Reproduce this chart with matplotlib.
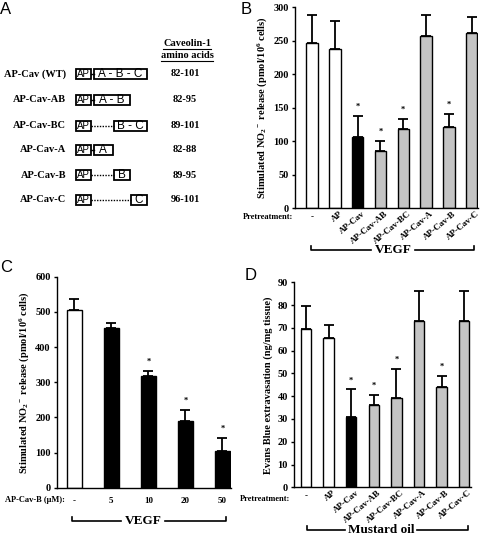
import numpy as np
import matplotlib
matplotlib.use('Agg')
import matplotlib.pyplot as plt
import matplotlib.patches as mpatches
from matplotlib.transforms import ScaledTranslation

##===================================================================
# Data
##===================================================================
# panel A: constructs
construct_names = ['AP-Cav (WT)', 'AP-Cav-AB', 'AP-Cav-BC', 'AP-Cav-A', 'AP-Cav-B', 'AP-Cav-C']
construct_domains = ['ABC', 'AB', 'BC', 'A', 'B', 'C']
construct_aa = ['82-101', '82-95', '89-101', '82-88', '89-95', '96-101']

# panel B: VEGF stimulated NO2- release
b_labels = ['-', 'AP', 'AP-Cav', 'AP-Cav-AB', 'AP-Cav-BC', 'AP-Cav-A', 'AP-Cav-B', 'AP-Cav-C']
b_means = [247, 238, 106, 86, 118, 257, 121, 261]
b_err = [41, 42, 32, 15, 15, 31, 20, 25]
b_sig = [False, False, True, True, True, False, True, False]

# panel C: dose response to AP-Cav-B
c_labels = ['-', '5', '10', '20', '50']
c_means = [505, 454, 318, 190, 105]
c_err = [31, 15, 14, 31, 37]
c_sig = [False, False, True, True, True]

# panel D: Evans blue extravasation
d_labels = b_labels
d_means = [69.7, 65.7, 31.0, 36.0, 39.4, 72.9, 43.9, 72.9]
d_err = [9.8, 5.5, 12.0, 4.4, 12.4, 13.3, 5.0, 13.3]
d_sig = b_sig

##===================================================================
plt.rcParams.update({'font.family': 'Liberation Serif',
                     'font.weight': 'bold',
                     'axes.labelweight': 'bold',
                     'mathtext.fontset': 'custom',
                     'mathtext.rm': 'Liberation Serif:bold',
                     'mathtext.it': 'Liberation Serif:italic:bold',
                     'mathtext.bf': 'Liberation Serif:bold',
                     'axes.linewidth': 1.0,
                     'xtick.labelsize': 7,
                     'ytick.labelsize': 7.5})

W, H = 480, 537
fig = plt.figure(figsize=(W / 100, H / 100), dpi=100)

def px_axes(left, top, right, bottom):
    return fig.add_axes([left / W, 1 - bottom / H, (right - left) / W, (bottom - top) / H])

# overlay in pixel coords for labels / brackets / panel A
ov = fig.add_axes([0, 0, 1, 1])
ov.set_xlim(0, W)
ov.set_ylim(H, 0)
ov.axis('off')

WHITE, BLACK, GRAY = 'white', 'black', '#c4c4c4'
b_cols = [WHITE, WHITE, BLACK, GRAY, GRAY, GRAY, GRAY, GRAY]
c_cols = [WHITE, BLACK, BLACK, BLACK, BLACK]


def bar_panel(ax, means, err, cols, sig, width, ylim, step, ylabel):
    x = np.arange(len(means))
    ax.bar(x, means, width=width, color=cols, edgecolor='black', linewidth=1.0, zorder=2)
    ax.errorbar(x, means, yerr=[np.zeros(len(err)), err], fmt='none', ecolor='black',
                elinewidth=1.3, capsize=3.5, capthick=1.3, zorder=1)
    for xi, m, e, s in zip(x, means, err, sig):
        if s:
            ax.annotate('*', (xi, m + e), xytext=(0, 6.5), textcoords='offset points',
                        ha='center', va='center', fontsize=6)
    ax.set_ylim(*ylim)
    ax.set_yticks(np.arange(ylim[0], ylim[1] + 0.1, step))
    ax.spines['top'].set_visible(False)
    ax.spines['right'].set_visible(False)
    ax.tick_params(axis='y', length=2.5, width=1.0, pad=2)
    ax.tick_params(axis='x', length=0)
    ax.set_ylabel(ylabel, fontsize=7.5, labelpad=3)
    return x


def rotated_labels(ax, x, labels):
    ax.set_xticks(x)
    ax.set_xticklabels(labels, rotation=40, ha='right', rotation_mode='anchor', fontsize=6.5)
    ax.tick_params(axis='x', pad=1)
    shift = ScaledTranslation(4 / 100, 0, fig.dpi_scale_trans)
    for i, lab in enumerate(ax.get_xticklabels()):
        if i == 0:
            lab.set_rotation(0)
            lab.set_ha('center')
            lab.set_va('center')
            lab.set_transform(lab.get_transform() + ScaledTranslation(0, -7 / 100, fig.dpi_scale_trans))
        else:
            lab.set_transform(lab.get_transform() + shift)


def bracket(x0, x1, y, text, tx, gap):
    ov.plot([x0, x0, tx - gap], [y - 4, y, y], color='black', lw=1.2)
    ov.plot([tx + gap, x1, x1], [y, y, y - 4], color='black', lw=1.2)
    ov.text(tx, y, text, ha='center', va='center', fontsize=9.5)

##==============================================
# Panel A
##==============================================
dom_x = {'A': (94, 112.5), 'B': (114, 130), 'C': (131, 147)}
row_y = [74, 100, 126, 150, 175, 200]
ov.text(187, 43, 'Caveolin-1', ha='center', va='center', fontsize=7.5)
ov.text(187, 55, 'amino acids', ha='center', va='center', fontsize=7.5)
ov.plot([163, 211], [48.5, 48.5], color='black', lw=0.8)
ov.plot([161, 213], [61, 61], color='black', lw=0.8)
for name, dom, aa, y in zip(construct_names, construct_domains, construct_aa, row_y):
    ov.text(66, y, name, ha='right', va='center', fontsize=7.5)
    ov.text(185, y, aa, ha='center', va='center', fontsize=7.5)
    ov.add_patch(mpatches.Rectangle((76, y - 5), 15, 10, fill=False, lw=1.3, ec='black'))
    ov.text(83.5, y, 'AP', ha='center', va='center', fontsize=7,
            family='Liberation Sans', weight='normal')
    x0 = dom_x[dom[0]][0]
    x1 = dom_x[dom[-1]][1]
    if dom[0] == 'A':
        ov.plot([91, x0], [y, y], color='black', lw=1.0)
    else:
        ov.plot([91, x0], [y, y], color='black', lw=1.0, ls=(0, (1, 1)))
    ov.add_patch(mpatches.Rectangle((x0, y - 5), x1 - x0, 10, fill=False, lw=1.3, ec='black'))
    ov.text((x0 + x1) / 2, y, ' - '.join(dom), ha='center', va='center', fontsize=8.5,
            family='Liberation Sans', weight='normal')

##==============================================
# Panel B
##==============================================
axB = px_axes(295, 7.3, 478, 208.3)
xb = bar_panel(axB, b_means, b_err, b_cols, b_sig, 0.5, (0, 300), 50,
               r'Stimulated NO$_2$$^-$ release (pmol/10$^6$ cells)')
axB.set_xlim(-0.75, 7.28)
rotated_labels(axB, xb, b_labels)
ov.text(293, 217, 'Pretreatment:', ha='right', va='center', fontsize=6)
bracket(311, 474, 250, 'VEGF', 393, 22)

##==============================================
# Panel C
##==============================================
axC = px_axes(57, 276.7, 231, 487.7)
xc = bar_panel(axC, c_means, c_err, c_cols, c_sig, 0.42, (0, 600), 100,
               r'Stimulated NO$_2$$^-$ release (pmol/10$^6$ cells)')
axC.set_xlim(-0.47, 4.23)
axC.set_xticks(xc)
axC.set_xticklabels(c_labels, fontsize=6.5)
axC.tick_params(axis='x', pad=7)
ov.text(65, 500, 'AP-Cav-B (\u00b5M):', ha='right', va='center', fontsize=6)
bracket(72, 226, 521, 'VEGF', 143, 22)

##==============================================
# Panel D
##==============================================
axD = px_axes(294, 282.3, 471, 487.3)
xd = bar_panel(axD, d_means, d_err, b_cols, d_sig, 0.46, (0, 90), 10,
               'Evans Blue extravasation (ng/mg tissue)')
axD.set_xlim(-0.53, 7.3)
rotated_labels(axD, xd, d_labels)
ov.text(290, 499, 'Pretreatment:', ha='right', va='center', fontsize=6)
bracket(307, 468, 530, 'Mustard oil', 381, 36)

##==============================================
for letter, (lx, ly) in zip('ABCD', [(0, 10), (241, 9), (0, 268), (245, 275)]):
    ov.text(lx, ly, letter, ha='left', va='center', fontsize=12,
            family='Liberation Sans', weight='normal')

plt.savefig('out.png', dpi=100)
